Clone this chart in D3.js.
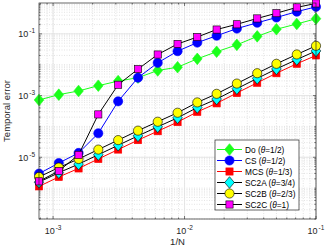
<!DOCTYPE html>
<html><head><meta charset="utf-8">
<script src="https://cdn.jsdelivr.net/npm/d3@7"></script>
<style>body{margin:0;background:#fff}svg{display:block;font-family:"Liberation Sans",Arial,sans-serif}</style>
</head><body><svg id="c" width="327" height="251"></svg>
<script>
const N = [1280, 905, 640, 453, 320, 226, 160, 113, 80, 57, 40, 28, 20, 14, 10];
const doVals   = [7.2e-4,1.07e-3,1.41e-3,2.09e-3,2.95e-3,3.8e-3,6.5e-3,8.3e-3,1.55e-2,2.63e-2,4.4e-2,8.3e-2,0.141,0.209,0.309];
const csVals   = [2.95e-6,6.5e-6,1.38e-5,6.0e-5,6.5e-4,3.8e-3,1.15e-2,2.75e-2,5.2e-2,8.7e-2,0.148,0.229,0.339,0.525,0.75];
const mcsVals  = [1.14e-6,2.3e-6,4.35e-6,8.8e-6,1.78e-5,3.6e-5,7.0e-5,1.38e-4,2.96e-4,5.6e-4,1.21e-3,2.6e-3,5.3e-3,1.07e-2,2.0e-2];
const sc2aVals = [1.56e-6,3.16e-6,6.0e-6,1.21e-5,2.45e-5,4.95e-5,9.7e-5,1.9e-4,4.1e-4,7.7e-4,1.67e-3,3.6e-3,7.3e-3,1.47e-2,2.8e-2];
const sc2bVals = [2.3e-6,4.65e-6,8.8e-6,1.78e-5,3.6e-5,7.3e-5,1.42e-4,2.78e-4,6.0e-4,1.14e-3,2.45e-3,5.3e-3,1.07e-2,2.15e-2,4.1e-2];
const sc2cVals = [1.66e-6,3.6e-6,1.2e-5,2.45e-4,2.24e-3,7.2e-3,2.14e-2,4.7e-2,7.9e-2,0.138,0.204,0.316,0.468,0.72,0.97];
const xTickExp = [-3, -2, -1];
const yTickExp = [-5, -3, -1];

const series = [
  {name:"Do", theta:"1/2", vals:doVals, line:"#1aff1a", fill:"#1aff1a", edge:"#1aff1a", marker:"diamond"},
  {name:"CS", theta:"1/2", vals:csVals, line:"#0000ff", fill:"#0000ff", edge:"#0000ff", marker:"circle"},
  {name:"MCS", theta:"1/3", vals:mcsVals, line:"#ff0000", fill:"#ff0000", edge:"#ff0000", marker:"square"},
  {name:"SC2A", theta:"3/4", vals:sc2aVals, line:"#000", fill:"#00ffff", edge:"#000", marker:"diamond"},
  {name:"SC2B", theta:"2/3", vals:sc2bVals, line:"#000", fill:"#ffff00", edge:"#000", marker:"circle"},
  {name:"SC2C", theta:"1", vals:sc2cVals, line:"#000", fill:"#ff00ff", edge:"#000", marker:"square"}
];

const L=39, R=316, T=3, B=219;
const x = d3.scaleLog().domain([1/1280, 0.1]).range([L, R]);
const y = d3.scaleLog().domain([1e-7, 1]).range([B, T]);
const svg = d3.select("#c");

// grids
const g = svg.append("g");
const minorX = [], minorY = [];
for (let e=-4; e<=-1; e++) for (let m=1; m<=9; m++) { const v=m*Math.pow(10,e); if (v>=1/1280 && v<=0.1) minorX.push(v); }
for (let e=-7; e<=-1; e++) for (let m=1; m<=9; m++) { const v=m*Math.pow(10,e); if (v>=1e-7 && v<=1) minorY.push(v); }
g.selectAll(".mx").data(minorX).join("line").attr("x1",d=>x(d)).attr("x2",d=>x(d)).attr("y1",T).attr("y2",B)
  .attr("stroke","#d0d0d0").attr("stroke-width",0.6).attr("stroke-dasharray","1,1.5");
g.selectAll(".my").data(minorY).join("line").attr("y1",d=>y(d)).attr("y2",d=>y(d)).attr("x1",L).attr("x2",R)
  .attr("stroke","#d0d0d0").attr("stroke-width",0.6).attr("stroke-dasharray","1,1.5");
g.selectAll(".Mx").data(xTickExp).join("line").attr("x1",d=>x(Math.pow(10,d))).attr("x2",d=>x(Math.pow(10,d))).attr("y1",T).attr("y2",B)
  .attr("stroke","#e3e3e3").attr("stroke-width",0.9);
g.selectAll(".My").data(yTickExp).join("line").attr("y1",d=>y(Math.pow(10,d))).attr("y2",d=>y(Math.pow(10,d))).attr("x1",L).attr("x2",R)
  .attr("stroke","#e3e3e3").attr("stroke-width",0.9);

// ticks (inside, all four sides)
const tk = svg.append("g").attr("stroke","#262626").attr("stroke-width",0.6);
minorX.forEach(v=>{ const isMaj = xTickExp.some(e=>Math.abs(Math.log10(v)-e)<1e-9); const len=isMaj?3:1.6;
  tk.append("line").attr("x1",x(v)).attr("x2",x(v)).attr("y1",B).attr("y2",B-len);
  tk.append("line").attr("x1",x(v)).attr("x2",x(v)).attr("y1",T).attr("y2",T+len); });
minorY.forEach(v=>{ const isMaj = yTickExp.some(e=>Math.abs(Math.log10(v)-e)<1e-9); const len=isMaj?3:1.6;
  tk.append("line").attr("y1",y(v)).attr("y2",y(v)).attr("x1",L).attr("x2",L+len);
  tk.append("line").attr("y1",y(v)).attr("y2",y(v)).attr("x1",R).attr("x2",R-len); });

// tick labels
const xl = svg.append("g").attr("font-size",9).attr("fill","#262626");
xTickExp.forEach(e=>{ const t = xl.append("text").attr("x",x(Math.pow(10,e))).attr("y",234).attr("text-anchor","middle");
  t.append("tspan").text("10"); t.append("tspan").attr("font-size",6.5).attr("dy",-4).attr("dx",1).text(e); });
yTickExp.forEach(e=>{ const t = xl.append("text").attr("x",35).attr("y",y(Math.pow(10,e))+3.5).attr("text-anchor","end");
  t.append("tspan").text("10"); t.append("tspan").attr("font-size",6.5).attr("dy",-4).attr("dx",1).text(e); });
svg.append("text").attr("x",(L+R)/2).attr("y",245).attr("text-anchor","middle").attr("font-size",9.5).attr("fill","#262626").text("1/N");
svg.append("text").attr("transform",`translate(10,${(T+B)/2}) rotate(-90)`).attr("text-anchor","middle").attr("font-size",9.5).attr("fill","#262626").text("Temporal error");

// clip
svg.append("clipPath").attr("id","cp").append("rect").attr("x",L-7).attr("y",T-7).attr("width",R-L+14).attr("height",B-T+14);

function drawMarker(sel, type, cx, cy, fill, edge) {
  if (type==="diamond") sel.append("path").attr("d",`M${cx},${cy-5.8}L${cx+4.8},${cy}L${cx},${cy+5.8}L${cx-4.8},${cy}Z`).attr("fill",fill).attr("stroke",edge).attr("stroke-width",0.6);
  else if (type==="circle") sel.append("circle").attr("cx",cx).attr("cy",cy).attr("r",4.6).attr("fill",fill).attr("stroke",edge).attr("stroke-width",0.6);
  else sel.append("rect").attr("x",cx-3.6).attr("y",cy-3.6).attr("width",7.2).attr("height",7.2).attr("fill",fill).attr("stroke",edge).attr("stroke-width",0.6);
}
const line = d3.line().x((d,i)=>x(1/N[i])).y(d=>y(d));
const plot = svg.append("g").attr("clip-path","url(#cp)");
series.forEach(s=>{
  const gs = plot.append("g");
  gs.append("path").attr("d",line(s.vals)).attr("fill","none").attr("stroke",s.line).attr("stroke-width",1);
  s.vals.forEach((v,i)=>drawMarker(gs, s.marker, x(1/N[i]), y(v), s.fill, s.edge));
});

// frame
svg.append("rect").attr("x",L).attr("y",T).attr("width",R-L).attr("height",B-T).attr("fill","none").attr("stroke","#262626").attr("stroke-width",0.7);

// legend
const lg = svg.append("g");
lg.append("rect").attr("x",215).attr("y",140).attr("width",84).attr("height",70).attr("fill","#fff").attr("stroke","#262626").attr("stroke-width",0.7);
series.forEach((s,i)=>{
  const yy = 149.5 + i*11;
  lg.append("line").attr("x1",217).attr("x2",242).attr("y1",yy).attr("y2",yy).attr("stroke",s.line).attr("stroke-width",1);
  drawMarker(lg, s.marker, 229.5, yy, s.fill, s.edge);
  const t = lg.append("text").attr("x",245).attr("y",yy+3.2).attr("font-size",8.3).attr("fill","#000");
  t.append("tspan").text(s.name+" (");
  t.append("tspan").attr("font-style","italic").text("θ");
  t.append("tspan").text("="+s.theta+")");
});
</script></body></html>
